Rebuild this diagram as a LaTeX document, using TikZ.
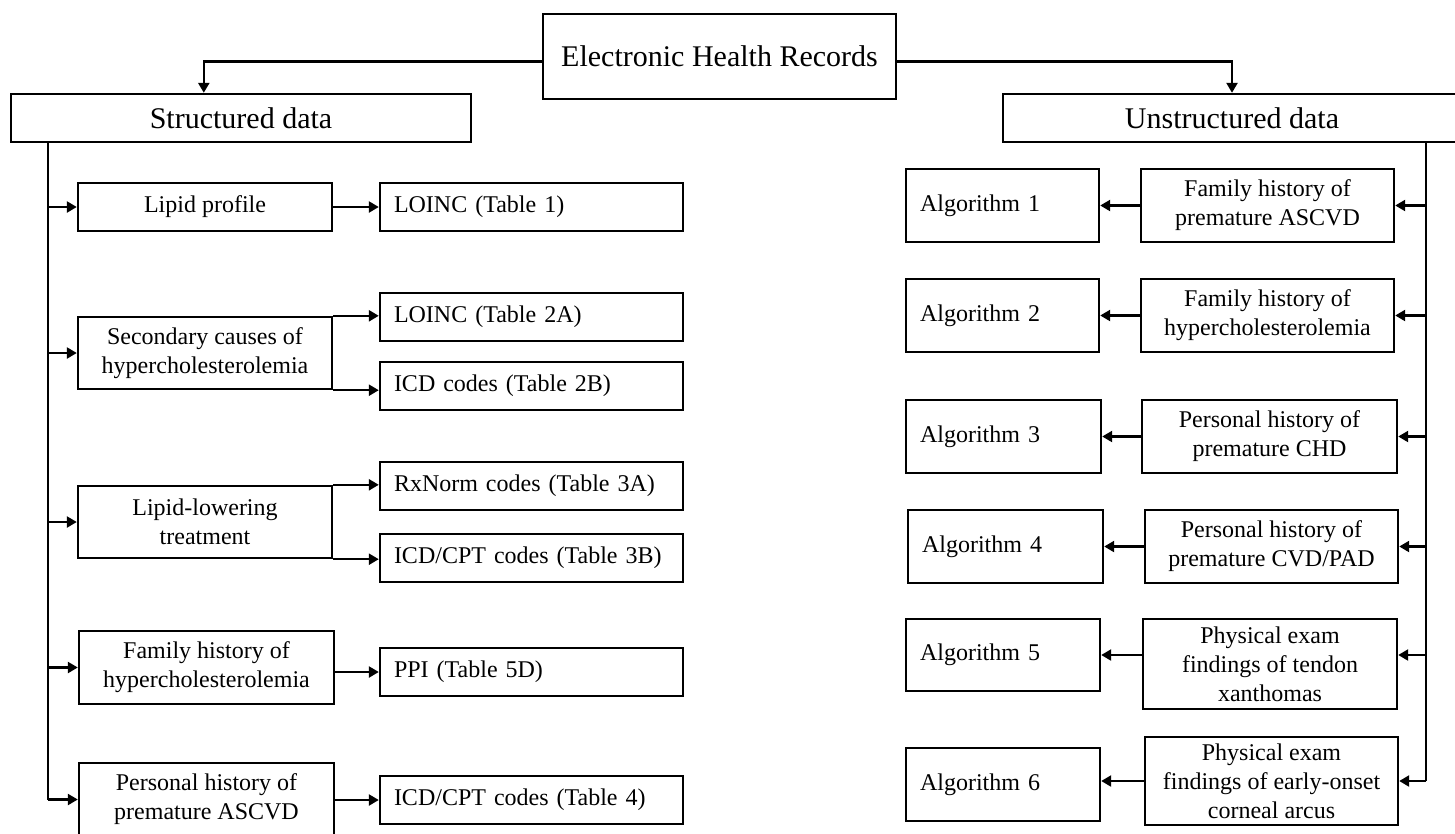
\documentclass[tikz,border=0pt]{standalone}
\usepackage{fontspec}
\setmainfont{Liberation Serif}
\usetikzlibrary{arrows.meta,calc}
\begin{document}
\begin{tikzpicture}[x=1pt,y=-1pt,
  every node/.style={font=\fontsize{24}{29}\selectfont},
  box/.style={draw=black, line width=2.4pt, inner sep=0pt, align=center},
  cbox/.style 2 args={box, minimum width=#1pt, minimum height=#2pt},
  lbox/.style 2 args={box, align=left, inner xsep=14pt, inner ysep=0pt, text width=#1pt-28pt, minimum height=#2pt},
  hdr/.style={font=\fontsize{30}{34}\selectfont},
  arr/.style={line width=2.4pt, -{Triangle[length=10pt,width=11pt]}},
  ln/.style={line width=2.4pt}]
\clip (0,0) rectangle (1455,833);
\fill[white] (0,0) rectangle (1455,833);
% headers
\node[cbox={353}{85}, hdr] (ehr) at (719.5,56.5) {Electronic Health Records};
\node[cbox={460}{48}, hdr] (sd) at (241,118) {Structured data};
\node[cbox={458}{48}, hdr] (usd) at (1232,118) {Unstructured data};
\draw[arr] ([yshift=-5pt]ehr.west) -| ([xshift=194pt]sd.north west);
\draw[arr] ([yshift=-5pt]ehr.east) -| (usd.north);
% left column
\node[cbox={254}{48}] (lp) at (205,207) {Lipid profile};
\node[lbox={303}{48}] (l1) at (531.5,207) {LOINC (Table 1)};
\node[cbox={254}{72}] (sec) at (205,353) {Secondary causes of\\hypercholesterolemia};
\node[lbox={303}{48}] (l2a) at (531.5,317) {LOINC (Table 2A)};
\node[lbox={303}{48}] (i2b) at (531.5,386) {ICD codes (Table 2B)};
\node[cbox={254}{72}] (llt) at (205,522) {Lipid-lowering\\treatment};
\node[lbox={303}{48}] (rx) at (531.5,486) {RxNorm codes (Table 3A)};
\node[lbox={303}{48}] (c3b) at (531.5,558) {ICD/CPT codes (Table 3B)};
\node[cbox={255}{73}] (fh) at (206.5,667.5) {Family history of\\hypercholesterolemia};
\node[lbox={303}{48}] (ppi) at (531.5,672) {PPI (Table 5D)};
\node[cbox={255}{73}] (ph) at (206.5,799.5) {Personal history of\\premature ASCVD};
\node[lbox={303}{48}] (c4) at (531.5,800) {ICD/CPT codes (Table 4)};
\coordinate (lt) at (48,142);
\draw[ln] (lt) -- (lt |- ph.west);
\foreach \n in {lp,sec,llt,fh,ph} \draw[arr] (lt |- \n.west) -- (\n.west);
\draw[arr] (lp.east) -- (l1.west);
\draw[arr] (sec.north east) -- (sec.north east -| l2a.west);
\draw[arr] (sec.south east) -- (sec.south east -| i2b.west);
\draw[arr] (llt.north east) -- (llt.north east -| rx.west);
\draw[arr] (llt.south east) -- (llt.south east -| c3b.west);
\draw[arr] (ppi.west -| fh.east) -- (ppi.west);
\draw[arr] (c4.west -| ph.east) -- (c4.west);
% right column
\node[lbox={193}{73}] (a1) at (1002.5,205.5) {Algorithm 1};
\node[cbox={253}{73}] (f1) at (1267.5,205.5) {Family history of\\premature ASCVD};
\node[lbox={193}{73}] (a2) at (1002.5,315.5) {Algorithm 2};
\node[cbox={253}{73}] (f2) at (1267.5,315.5) {Family history of\\hypercholesterolemia};
\node[lbox={195}{73}] (a3) at (1003.5,436.5) {Algorithm 3};
\node[cbox={255}{73}] (f3) at (1269.5,436.5) {Personal history of\\premature CHD};
\node[lbox={195}{73}] (a4) at (1005.5,546.5) {Algorithm 4};
\node[cbox={253}{73}] (f4) at (1271.5,546.5) {Personal history of\\premature CVD/PAD};
\node[lbox={194}{72}] (a5) at (1003,655) {Algorithm 5};
\node[cbox={254}{90}] (f5) at (1270,664) {Physical exam\\findings of tendon\\xanthomas};
\node[lbox={194}{73}] (a6) at (1003,784.5) {Algorithm 6};
\node[cbox={253}{88}] (f6) at (1271.5,781) {Physical exam\\findings of early-onset\\corneal arcus};
\coordinate (rt) at (1426,142);
\draw[ln] (rt) -- (rt |- f6.east);
\foreach \n in {f1,f2,f3,f4,f6} \draw[arr] (rt |- \n.east) -- (\n.east);
\draw[arr] (rt |- a5.east) -- (f5.east |- a5.east);
\foreach \f/\a in {f1/a1,f2/a2,f3/a3,f4/a4,f6/a6} \draw[arr] (\f.west) -- (\f.west -| \a.east);
\draw[arr] (f5.west |- a5.east) -- (a5.east);
\end{tikzpicture}
\end{document}
